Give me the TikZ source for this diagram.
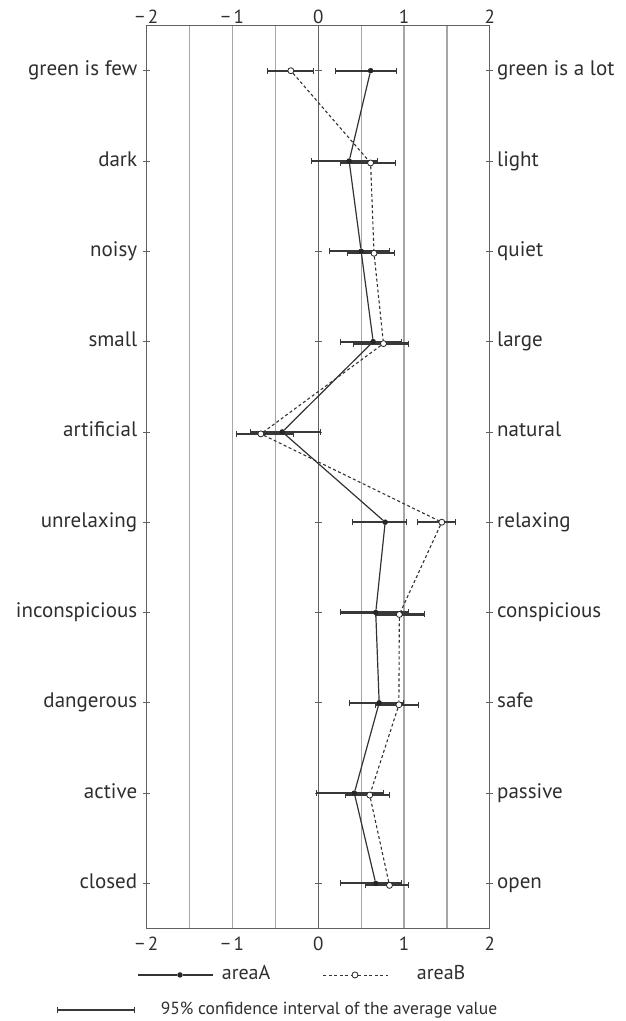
\documentclass[tikz,border=0pt]{standalone}
\usepackage{fontspec}
\setmainfont{PT Sans}
\usetikzlibrary{arrows.meta}

\begin{document}
\begin{tikzpicture}[x=85.75pt,y=-90.3pt]

    \tikzstyle{frame line}=[line width=1.2pt,color=black!62]
    \tikzstyle{grid line}=[line width=1.3pt,color=black!35]
    \tikzstyle{row mark}=[line width=0.8pt,color=black!62]
    \tikzstyle{axis number}=[text=black!82,font=\fontsize{19}{21}\selectfont]
    \tikzstyle{word left}=[anchor=base east,inner sep=0pt,yshift=-5pt,text=black!82,font=\fontsize{21}{24}\selectfont]
    \tikzstyle{word right}=[anchor=base west,inner sep=0pt,yshift=-5pt,text=black!82,font=\fontsize{21}{24}\selectfont]
    \tikzstyle{dot A}=[circle,fill=black!85,inner sep=0pt,minimum size=5.5pt]
    \tikzstyle{dot B}=[circle,draw=black!85,fill=white,line width=0.8pt,inner sep=0pt,minimum size=6pt]
    \tikzstyle{line A}=[line width=1.2pt,color=black!80]
    \tikzstyle{line B}=[line width=1.1pt,color=black!80,dash pattern=on 3pt off 2.5pt]
    \tikzstyle{interval}=[{Bar[width=6pt,line width=0.9pt]}-{Bar[width=6pt,line width=0.9pt]},line width=2.2pt,color=black!78]
    \tikzstyle{legend text}=[anchor=base west,inner sep=0pt,yshift=-5pt,text=black!82]

    \useasboundingbox (-3.712,-0.783) rectangle (3.588,10.524);

    % grid
    \draw[style=grid line] (-1.5,-0.5) -- (-1.5,9.5);
    \draw[style=grid line] (-1,-0.5) -- (-1,9.5);
    \draw[style=grid line] (-0.5,-0.5) -- (-0.5,9.5);
    \draw[style=grid line] (0.5,-0.5) -- (0.5,9.5);
    \draw[style=grid line] (1,-0.5) -- (1,9.5);
    \draw[style=grid line] (1.5,-0.5) -- (1.5,9.5);
    \draw[style=frame line] (0,-0.5) -- (0,9.5);
    \draw[style=frame line] (-2,-0.5) rectangle (2,9.5);
    \foreach \r in {0,...,9}
        \draw[style=row mark] (-2,\r) ++(-3.5pt,0) -- ++(7pt,0)
                              (0,\r) ++(-3.5pt,0) -- ++(7pt,0)
                              (2,\r) ++(-3.5pt,0) -- ++(7pt,0);

    % numbers, top and bottom
    \node[style=axis number,anchor=south,inner sep=1.5pt] (t1) at (-2,-0.5) {−\,2};
    \node[style=axis number,anchor=south,inner sep=1.5pt] (t2) at (-1,-0.5) {−\,1};
    \node[style=axis number,anchor=south,inner sep=1.5pt] (t3) at (0,-0.5) {0};
    \node[style=axis number,anchor=south,inner sep=1.5pt] (t4) at (1,-0.5) {1};
    \node[style=axis number,anchor=south,inner sep=1.5pt] (t5) at (2,-0.5) {2};
    \node[style=axis number,anchor=north,inner sep=0pt] (b1) at (-2,9.596) {−\,2};
    \node[style=axis number,anchor=north,inner sep=0pt] (b2) at (-1,9.596) {−\,1};
    \node[style=axis number,anchor=north,inner sep=0pt] (b3) at (0,9.596) {0};
    \node[style=axis number,anchor=north,inner sep=0pt] (b4) at (1,9.596) {1};
    \node[style=axis number,anchor=north,inner sep=0pt] (b5) at (2,9.596) {2};

    % word pairs
    \node[style=word left] (w1) at (-2.11,0) {green is few};
    \node[style=word left] (w2) at (-2.11,1) {dark};
    \node[style=word left] (w3) at (-2.11,2) {noisy};
    \node[style=word left] (w4) at (-2.11,3) {small};
    \node[style=word left] (w5) at (-2.11,4) {artificial};
    \node[style=word left] (w6) at (-2.11,5) {unrelaxing};
    \node[style=word left] (w7) at (-2.11,6) {inconspicious};
    \node[style=word left] (w8) at (-2.11,7) {dangerous};
    \node[style=word left] (w9) at (-2.11,8) {active};
    \node[style=word left] (w10) at (-2.11,9) {closed};
    \node[style=word right] (v1) at (2.084,0) {green is a lot};
    \node[style=word right] (v2) at (2.084,1) {light};
    \node[style=word right] (v3) at (2.084,2) {quiet};
    \node[style=word right] (v4) at (2.084,3) {large};
    \node[style=word right] (v5) at (2.084,4) {natural};
    \node[style=word right] (v6) at (2.084,5) {relaxing};
    \node[style=word right] (v7) at (2.084,6) {conspicious};
    \node[style=word right] (v8) at (2.084,7) {safe};
    \node[style=word right] (v9) at (2.084,8) {passive};
    \node[style=word right] (v10) at (2.084,9) {open};

    % confidence intervals, areaA
    \draw[style=interval] (0.19,0) -- (0.92,0);
    \draw[style=interval] (-0.085,1) -- (0.70,1);
    \draw[style=interval] (0.12,2) -- (0.84,2);
    \draw[style=interval] (0.25,3) -- (0.98,3);
    \draw[style=interval] (-0.80,4) -- (0.03,4);
    \draw[style=interval] (0.39,5) -- (1.03,5);
    \draw[style=interval] (0.25,6) -- (1.06,6);
    \draw[style=interval] (0.36,7) -- (1.00,7);
    \draw[style=interval] (-0.03,8) -- (0.76,8);
    \draw[style=interval] (0.25,9) -- (0.97,9);
    % confidence intervals, areaB
    \draw[style=interval] (-0.60,0) -- (-0.05,0);
    \draw[style=interval] (0.25,1.022) -- (0.91,1.022);
    \draw[style=interval] (0.34,2.022) -- (0.89,2.022);
    \draw[style=interval] (0.41,3.022) -- (1.06,3.022);
    \draw[style=interval] (-0.96,4.022) -- (-0.29,4.022);
    \draw[style=interval] (1.15,5) -- (1.61,5);
    \draw[style=interval] (0.66,6.022) -- (1.24,6.022);
    \draw[style=interval] (0.66,7.022) -- (1.17,7.022);
    \draw[style=interval] (0.31,8.022) -- (0.84,8.022);
    \draw[style=interval] (0.54,9.022) -- (1.06,9.022);

    % averages
    \node[style=dot A] (a1) at (0.61,0) {};
    \node[style=dot A] (a2) at (0.36,1) {};
    \node[style=dot A] (a3) at (0.50,2) {};
    \node[style=dot A] (a4) at (0.64,3) {};
    \node[style=dot A] (a5) at (-0.42,4) {};
    \node[style=dot A] (a6) at (0.78,5) {};
    \node[style=dot A] (a7) at (0.67,6) {};
    \node[style=dot A] (a8) at (0.71,7) {};
    \node[style=dot A] (a9) at (0.42,8) {};
    \node[style=dot A] (a10) at (0.67,9) {};
    \node[style=dot B] (p1) at (-0.32,0) {};
    \node[style=dot B] (p2) at (0.61,1.022) {};
    \node[style=dot B] (p3) at (0.65,2.022) {};
    \node[style=dot B] (p4) at (0.76,3.022) {};
    \node[style=dot B] (p5) at (-0.67,4.022) {};
    \node[style=dot B] (p6) at (1.44,5) {};
    \node[style=dot B] (p7) at (0.945,6.022) {};
    \node[style=dot B] (p8) at (0.94,7.022) {};
    \node[style=dot B] (p9) at (0.60,8.022) {};
    \node[style=dot B] (p10) at (0.83,9.022) {};

    \draw[style=line A] (a1) -- (a2) -- (a3) -- (a4) -- (a5) -- (a6) -- (a7) -- (a8) -- (a9) -- (a10);
    \draw[style=line B] (p1) -- (p2) -- (p3) -- (p4) -- (p5) -- (p6) -- (p7) -- (p8) -- (p9) -- (p10);

    % legend
    \coordinate (la1) at (-2.099,10.014);
    \coordinate (la2) at (-1.224,10.014);
    \node[style=dot A] (ldA) at (-1.613,10.014) {};
    \draw[style=line A] (la1) -- (ldA) -- (la2);
    \node[style=legend text,font=\fontsize{20}{22}\selectfont] (lta) at (-1.127,10.014) {areaA};
    \coordinate (lb1) at (0.058,10.014);
    \coordinate (lb2) at (0.816,10.014);
    \node[style=dot B] (ldB) at (0.428,10.014) {};
    \draw[style=line B,line width=0.8pt] (lb1) -- (ldB) -- (lb2);
    \node[style=legend text,font=\fontsize{20}{22}\selectfont] (ltb) at (1.148,10.014) {areaB};
    \coordinate (lc1) at (-3.044,10.402);
    \coordinate (lc2) at (-2.138,10.402);
    \draw[style=interval,line width=1.2pt] (lc1) -- (lc2);
    \node[style=legend text,font=\fontsize{17.5}{20}\selectfont] (ltc) at (-1.838,10.402) {95\% confidence interval of the average value};

\end{tikzpicture}
\end{document}
